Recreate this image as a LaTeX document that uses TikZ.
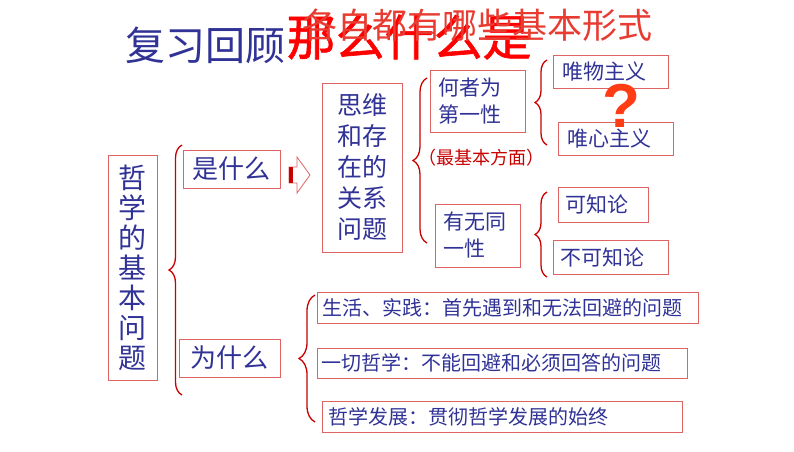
\documentclass[tikz,border=0pt]{standalone}
\usepackage{fontspec}
\setmainfont{Noto Sans CJK SC}
\newfontfamily\qfont{Liberation Sans}
\newfontfamily\cjkbold{Noto Sans CJK SC}[FakeBold=1.2]
\usetikzlibrary{decorations.pathreplacing}
\definecolor{txtblue}{RGB}{48,50,150}
\definecolor{boxred}{RGB}{222,100,100}
\definecolor{brred}{RGB}{200,0,0}
\definecolor{qred}{RGB}{255,60,20}
\definecolor{subred}{RGB}{232,60,50}
\tikzset{
  box/.style={draw=boxred, line width=0.8pt, text=txtblue, inner sep=0pt, outer sep=0pt},
  brc/.style={draw=brred, line width=1.3pt, decorate, decoration={brace, amplitude=#1}},
  brc/.default=12pt
}
\begin{document}
\begin{tikzpicture}[x=1pt,y=-1pt]
\useasboundingbox (0,0) rectangle (794,451);
% titles
\node[text=txtblue, font=\fontsize{40}{40}\selectfont, anchor=west] (t1) at (122,45) {复习回顾};
\node[text=red, font=\cjkbold\fontsize{49}{49}\selectfont, anchor=west] (t2) at (283,37) {那么什么是};
\node[text=subred, font=\fontsize{35}{35}\selectfont, anchor=west] (t3) at (299,25) {各自都有哪些基本形式};
% root
\node[box, minimum width=49, minimum height=225, align=center, font=\fontsize{28}{30}\selectfont] (root) at (132.5,267.5) {哲\\学\\的\\基\\本\\问\\题};
\node[box, minimum width=97, minimum height=38, font=\fontsize{26}{26}\selectfont] (shi) at (231.5,169) {是什么};
\node[box, minimum width=101, minimum height=38, font=\fontsize{26}{26}\selectfont] (wei) at (229.5,358) {为什么};
\node[box, minimum width=80, minimum height=169, align=center, font=\fontsize{25}{31}\selectfont] (rel) at (362,167.5) {思维\\和存\\在的\\关系\\问题};
\node[box, minimum width=95, minimum height=62, text width=79, align=left, font=\fontsize{21}{27}\selectfont] (hz) at (477.5,101) {何者为\\第一性};
\node[box, minimum width=85, minimum height=63, text width=69, align=left, font=\fontsize{21}{27}\selectfont] (yw) at (477.5,235.5) {有无同\\一性};
\node[text=brred, font=\fontsize{18}{18}\selectfont] (jb) at (481,158) {（最基本方面）};
\node[box, minimum width=115, minimum height=33, text width=97, align=left, font=\fontsize{21}{21}\selectfont] (wm) at (610.5,71.5) {唯物主义};
\node[box, minimum width=115, minimum height=33, text width=97, align=left, font=\fontsize{21}{21}\selectfont] (wx) at (615.5,138.5) {唯心主义};
\node[box, minimum width=90, minimum height=35, text width=76, align=left, font=\fontsize{21}{21}\selectfont] (kz) at (603,204.5) {可知论};
\node[box, minimum width=115, minimum height=34, text width=101, align=left, font=\fontsize{21}{21}\selectfont] (bk) at (610.5,257) {不可知论};
\node[text=qred, font=\qfont\bfseries\fontsize{62}{62}\selectfont] (q) at (621,106) {?};
\node[box, minimum width=381, minimum height=31, font=\fontsize{20}{20}\selectfont, text width=371, align=left] (r1) at (507.5,307.5) {生活、实践：首先遇到和无法回避的问题};
\node[box, minimum width=370, minimum height=30, font=\fontsize{20}{20}\selectfont, text width=362, align=left] (r2) at (502,363) {一切哲学：不能回避和必须回答的问题};
\node[box, minimum width=360, minimum height=31, font=\fontsize{20}{20}\selectfont, text width=348, align=left] (r3) at (502,416.5) {哲学发展：贯彻哲学发展的始终};
% braces
\draw[brc=13pt] (182,395) -- (182,145);
\draw[brc=14pt] (427,243) -- (427,78);
\draw[brc=12pt] (547,145) -- (547,60);
\draw[brc=12pt] (547,277) -- (547,192);
\draw[brc=16pt] (315,422) -- (315,295);
% block arrow
\draw[draw=boxred, line width=0.8pt, fill=white] (289,167) -- (297,167) -- (297,157) -- (310,175) -- (297,193) -- (297,183) -- (289,183) -- cycle;
\fill[brred] (289,167) rectangle (293,183);
\end{tikzpicture}
\end{document}
